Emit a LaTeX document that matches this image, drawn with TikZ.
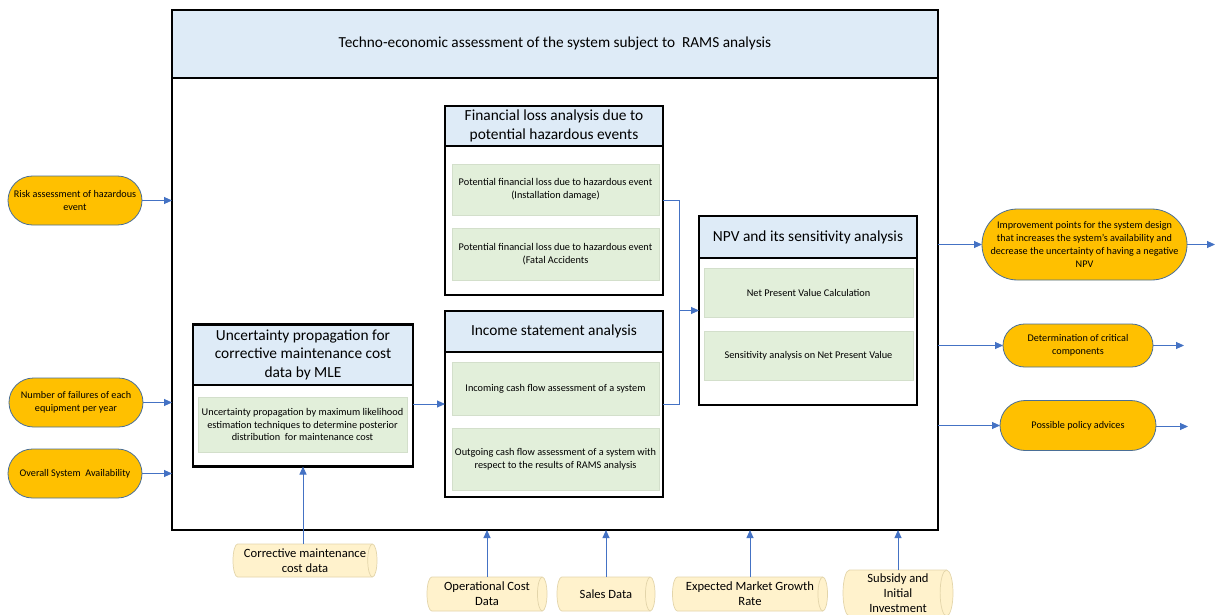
\documentclass[tikz,border=0pt]{standalone}
\usepackage{fontspec}
\setmainfont{Carlito}
\usetikzlibrary{arrows.meta,calc,shapes.misc}

\definecolor{hdrblue}{HTML}{DEEBF7}
\definecolor{cellgreen}{HTML}{E2EFDA}
\definecolor{cellline}{HTML}{D3DFCB}
\definecolor{ovalfill}{HTML}{FFC000}
\definecolor{ovalline}{HTML}{4A6F96}
\definecolor{linkblue}{HTML}{4472C4}
\definecolor{storefill}{HTML}{FFF2CC}
\definecolor{storeedge}{HTML}{E3D5AA}

\tikzset{
  sz/.style 2 args={minimum width=#1pt, minimum height=#2pt},
  every node/.style={inner sep=0pt, outer sep=0pt},
  frame/.style={draw=black, line width=2.2pt, fill=white},
  hdr/.style={draw=black, line width=2pt, fill=hdrblue, align=center,
              font=\fontsize{15.4}{18.5}\selectfont},
  cell/.style={draw=cellline, line width=0.6pt, fill=cellgreen, align=center,
               font=\fontsize{10.3}{12.5}\selectfont},
  oval/.style={rounded rectangle, draw=ovalline, line width=0.8pt, fill=ovalfill,
               align=center, font=\fontsize{10.2}{13}\selectfont},
  storetext/.style={align=center, font=\fontsize{12.6}{15}\selectfont},
  storebody/.style={draw=storeedge, line width=0.7pt, fill=storefill},
  link/.style={draw=linkblue, line width=0.9pt},
  arr/.style={link, -{Triangle[length=8pt,width=7pt]}},
}

% data store drawn as a horizontal cylinder: name, x, y, width, height, text
\newcommand\datastore[6]{%
  \pgfmathsetmacro\storer{#5*0.14}%
  \path[storebody]
    ($(#2,#3)+({-#4pt/2+\storer pt},{#5pt/2})$) -- ($(#2,#3)+({#4pt/2-\storer pt},{#5pt/2})$)
    arc[start angle=90,end angle=-90,x radius=\storer pt,y radius=#5pt/2]
    -- ($(#2,#3)+({-#4pt/2+\storer pt},{-#5pt/2})$)
    arc[start angle=270,end angle=90,x radius=\storer pt,y radius=#5pt/2] -- cycle;
  \draw[storebody, fill=none] ($(#2,#3)+({#4pt/2-\storer pt},{#5pt/2})$)
    arc[start angle=90,end angle=270,x radius=\storer pt,y radius=#5pt/2];
  \node[storetext, sz={#4}{#5}] (#1) at (#2,#3) {#6};
}

\begin{document}
\begin{tikzpicture}[x=1pt,y=-1pt]
\useasboundingbox (0,0) rectangle (1215,615);
\fill[white] (0,0) rectangle (1215,615);

% whole system frame and its heading
\node[frame, sz={766}{520}] (sys) at (555,270) {};
\node[hdr, sz={766}{68}, font=\fontsize{15.3}{18}\selectfont] (syshdr) at (555,44)
  {Techno-economic assessment of the system subject to \ RAMS analysis};

% financial loss analysis
\node[frame, sz={218}{189}] (fl) at (554,200.5) {};
\node[hdr, sz={218}{40}] (flh) at (554,126) {Financial loss analysis due to\\potential hazardous events};
\node[cell, sz={207}{51}] (fl1) at (555.5,189.5) {Potential financial loss due to hazardous event\\(Installation damage)};
\node[cell, sz={207}{52}] (fl2) at (555.5,254) {Potential financial loss due to hazardous event\\(Fatal Accidents};

% income statement analysis
\node[frame, sz={218}{186}] (inc) at (554,404) {};
\node[hdr, sz={218}{41}] (inch) at (554,331.5) {Income statement analysis};
\node[cell, sz={207}{53}] (inc1) at (555.5,388.5) {Incoming cash flow assessment of a system};
\node[cell, sz={207}{62}] (inc2) at (555.5,459) {Outgoing cash flow assessment of a system with\\respect to the results of RAMS analysis};

% uncertainty propagation
\node[frame, sz={220}{142}] (unc) at (303,395.5) {};
\node[hdr, sz={220}{60}] (unch) at (303,354.5) {Uncertainty propagation for\\corrective maintenance cost\\data by MLE};
\node[cell, sz={209}{55}] (unc1) at (302.5,424.5) {Uncertainty propagation by maximum likelihood\\estimation techniques to determine posterior\\distribution \ for maintenance cost};

% NPV analysis
\node[frame, sz={218}{189}] (npv) at (808,310.5) {};
\node[hdr, sz={218}{42}] (npvh) at (808,237) {NPV and its sensitivity analysis};
\node[cell, sz={209}{49}] (npv1) at (808.5,292.5) {Net Present Value Calculation};
\node[cell, sz={209}{49}] (npv2) at (808.5,355.5) {Sensitivity analysis on Net Present Value};

% inputs on the left
\node[oval, sz={134}{49}] (risk) at (75,200.5) {Risk assessment of hazardous\\event};
\node[oval, sz={134}{49}] (fail) at (76,402.5) {Number of failures of each\\equipment per year};
\node[oval, sz={134}{49}] (avail) at (75,473.5) {Overall System \ Availability};

% outputs on the right
\node[oval, sz={199}{71}] (imp) at (1084.5,244.5) {Improvement points for the system design\\that increases the system's availability and\\decrease the uncertainty of having a negative\\NPV};
\node[oval, sz={150}{43}] (crit) at (1078,345.5) {Determination of critical\\components};
\node[oval, sz={156}{50}] (pol) at (1078,425.5) {Possible policy advices};
\coordinate (impout) at (1215,244.5);
\coordinate (critout) at (1184,345.5);
\coordinate (polout) at (1188,426.5);

% data inputs at the bottom
\datastore{cmc}{305}{560.5}{144}{33}{Corrective maintenance\\cost data}
\datastore{opc}{487}{594}{120}{34}{Operational Cost\\Data}
\datastore{sales}{606}{594}{98}{34}{Sales Data}
\datastore{emg}{750}{594}{155}{34}{Expected Market Growth\\Rate}
\datastore{sub}{898}{593}{110}{46}{Subsidy and\\Initial\\Investment}

% connectors
\draw[arr] (risk.east) -- (risk.east -| sys.west);
\draw[arr] (fail.east) -- (fail.east -| sys.west);
\draw[arr] (avail.east) -- (avail.east -| sys.west);

\draw[arr] (sys.east |- imp.west) -- (imp.west);
\draw[arr] (sys.east |- crit.west) -- (crit.west);
\draw[arr] (sys.east |- pol.west) -- (pol.west);
\draw[arr] (imp.east) -- (impout);
\draw[arr] (crit.east) -- (critout);
\draw[arr] (pol.east |- polout) -- (polout);

\draw[arr] (cmc.north -| 303,0) -- (303,0 |- unc.south);
\draw[arr] (opc.north) -- (opc.north |- sys.south);
\draw[arr] (sales.north) -- (sales.north |- sys.south);
\draw[arr] (emg.north) -- (emg.north |- sys.south);
\draw[arr] (sub.north) -- (sub.north |- sys.south);

\draw[arr] (unc.east |- inc.west) -- (inc.west);
\coordinate (join) at (679,310.5);
\draw[link] (fl.east) -- (fl.east -| join) -- (inc.east -| join) -- (inc.east);
\draw[arr] (join) -- (npv.west);
\end{tikzpicture}
\end{document}
